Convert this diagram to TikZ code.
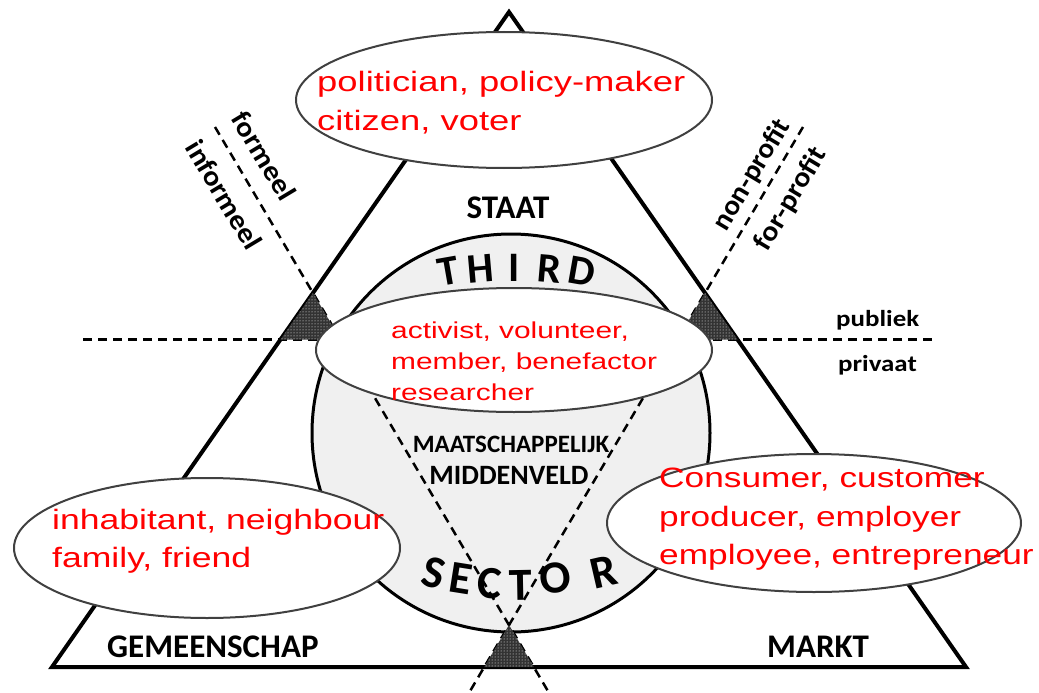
\documentclass[tikz,border=0pt]{standalone}
\usepackage{fontspec}
\setmainfont{Liberation Sans}
\newfontfamily\calfont{Carlito}
\usetikzlibrary{patterns,shapes.geometric}
\begin{document}
\begin{tikzpicture}[x=1pt,y=-1pt,
  side/.style={line width=4pt, line join=miter, line cap=rect},
  dashln/.style={line width=2.5pt, dash pattern=on 9pt off 6pt},
  shadetri/.style={preaction={fill=black!80}, pattern=dots, pattern color=white},
  role/.style={ellipse, draw=black!75, line width=2pt, fill=white, inner sep=0},
  redtxt/.style={text=red, anchor=base west, inner sep=0, font=\fontsize{28}{28}\selectfont},
  redsmall/.style={redtxt, font=\fontsize{23}{23}\selectfont},
  lbl/.style={inner sep=0, font=\calfont\bfseries\fontsize{33}{33}\selectfont},
  arcletter/.style={inner sep=0, font=\calfont\bfseries\fontsize{42}{42}\selectfont},
  arcletterb/.style={inner sep=0, font=\calfont\bfseries\fontsize{46}{46}\selectfont},
  rotlbl/.style={inner sep=0, font=\calfont\bfseries\fontsize{28}{28}\selectfont},
]
\fill[white] (0,0) rectangle (1039,693);
\useasboundingbox (0,0) rectangle (1039,693);

% big triangle corners
\coordinate (apex) at (509,12);
\coordinate (bl) at (52,667);
\coordinate (br) at (966,667);

% circle
\node[circle, draw=black, line width=3pt, fill=black!6, minimum size=398pt, inner sep=0] (third) at (511,433) {};

% dashed lines
\coordinate (hl) at (83,339.5);
\coordinate (hr) at (935,339.5);
\coordinate (aTop) at (215,127);
\coordinate (aBot) at (548.5,692);
\coordinate (bTop) at (803,127);
\coordinate (bBot) at (469.5,692);
\draw[dashln] (hl) -- (hr);
\draw[dashln] (aTop) -- (aBot);
\draw[dashln] (bTop) -- (bBot);

% triangle
\draw[side] (apex) -- (bl) -- (br) -- cycle;

% shaded triangles
\fill[shadetri] (313,292.9) -- (280.5,339.5) -- (340.6,339.5) -- cycle;
\fill[shadetri] (705,292.9) -- (737.5,339.5) -- (677.4,339.5) -- cycle;
\fill[shadetri] (509,625) -- (484.2,667) -- (533.8,667) -- cycle;

% ellipses
\node[role, minimum width=416pt, minimum height=136pt] (staatE) at (504,100) {};
\node[role, minimum width=396pt, minimum height=124pt] (midE) at (514,350) {};
\node[role, minimum width=386pt, minimum height=140pt] (gemE) at (207,548) {};
\node[role, minimum width=414pt, minimum height=138pt] (marktE) at (814,523) {};

% red role texts
\node[redtxt] (s1) at (317,92) {\scalebox{1.3}[1]{politician, policy-maker}};
\node[redtxt] (s2) at (317,130) {\scalebox{1.3}[1]{citizen, voter}};
\node[redsmall] (m1) at (391,338) {\scalebox{1.3}[1]{activist, volunteer,}};
\node[redsmall] (m2) at (391,369) {\scalebox{1.3}[1]{member, benefactor}};
\node[redsmall] (m3) at (391,400) {\scalebox{1.3}[1]{researcher}};
\node[redtxt] (g1) at (52,529) {\scalebox{1.27}[1]{inhabitant, neighbour}};
\node[redtxt] (g2) at (52,567) {\scalebox{1.27}[1]{family, friend}};
\node[redtxt] (k1) at (659,487) {\scalebox{1.26}[1]{Consumer, customer}};
\node[redtxt] (k2) at (659,526) {\scalebox{1.26}[1]{producer, employer}};
\node[redtxt] (k3) at (659,564) {\scalebox{1.26}[1]{employee, entrepreneur}};

% black labels
\node[lbl, anchor=base] (staat) at (508,218) {STAAT};
\node[lbl, anchor=base west] (gem) at (107,657) {GEMEENSCHAP};
\node[lbl, anchor=base west] (markt) at (767,657) {MARKT};
\node[lbl, anchor=base west, font=\calfont\bfseries\fontsize{23}{23}\selectfont] (publiek) at (836,326) {\scalebox{1.17}[1]{publiek}};
\node[lbl, anchor=base west, font=\calfont\bfseries\fontsize{23}{23}\selectfont] (privaat) at (838,371) {\scalebox{1.17}[1]{privaat}};
\node[lbl, anchor=base, font=\calfont\bfseries\fontsize{25}{25}\selectfont] (maat) at (511,452) {MAATSCHAPPELIJK};
\node[lbl, anchor=base, font=\calfont\bfseries\fontsize{28}{28}\selectfont] (midden) at (509,484) {MIDDENVELD};

% rotated labels
\node[rotlbl, rotate=-59] (formeel) at (264,156) {\scalebox{1.08}[1]{formeel}};
\node[rotlbl, rotate=-59] (informeel) at (224,195) {\scalebox{1.08}[1]{informeel}};
\node[rotlbl, rotate=59] (nonprofit) at (752,175) {\scalebox{1.05}[1]{non-profit}};
\node[rotlbl, rotate=59] (forprofit) at (791,199) {\scalebox{1.08}[1]{for-profit}};

% THIRD
\node[arcletter, rotate=10] (tT) at (448,271) {T};
\node[arcletter, rotate=5] (tH) at (481,269) {H};
\node[arcletter, rotate=0] (tI) at (514,268) {I};
\node[arcletter, rotate=-5] (tR) at (549,269) {R};
\node[arcletter, rotate=-10] (tD) at (582,271) {D};

% SECTOR
\node[arcletterb, rotate=-15] (sS) at (434,573) {S};
\node[arcletterb, rotate=-9] (sE) at (461,579) {E};
\node[arcletterb, rotate=-4] (sC) at (490,583) {C};
\node[arcletterb, rotate=1] (sT) at (521,585) {T};
\node[arcletterb, rotate=6] (sO) at (555,578) {O};
\node[arcletterb, rotate=13] (sR) at (604,572) {R};
\end{tikzpicture}
\end{document}
